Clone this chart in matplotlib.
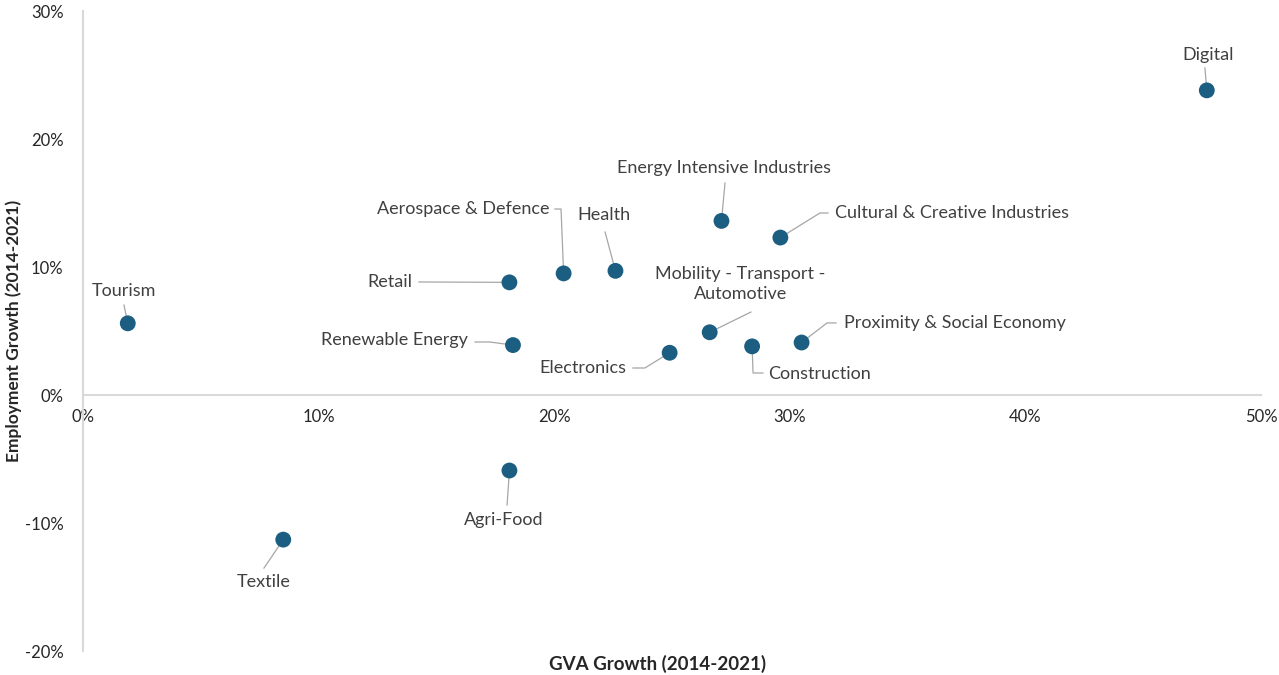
import matplotlib
matplotlib.use("Agg")
import matplotlib.pyplot as plt
from matplotlib.ticker import FuncFormatter

plt.rcParams['font.family'] = ['Lato', 'DejaVu Sans']

# GVA growth vs employment growth by industrial ecosystem, 2014-2021 (%)
sectors = ["Digital", "Energy Intensive Industries", "Cultural & Creative Industries",
           "Health", "Aerospace & Defence", "Retail", "Tourism", "Renewable Energy",
           "Mobility - Transport -\nAutomotive", "Electronics", "Construction",
           "Proximity & Social Economy", "Agri-Food", "Textile"]
gva_growth = [47.7, 27.1, 29.6, 22.6, 20.4, 18.1, 1.9, 18.25, 26.6, 24.9, 28.4, 30.5, 18.1, 8.5]
emp_growth = [23.8, 13.6, 12.3, 9.7, 9.5, 8.8, 5.6, 3.9, 4.9, 3.3, 3.8, 4.1, -5.9, -11.3]

# label anchor (centre of text) and leader-line waypoints for each sector
label_pos = [(47.75, 26.56), (27.21, 17.73), (36.88, 14.22), (22.11, 14.06),
             (16.13, 14.53), (13.03, 8.83), (1.74, 8.13), (13.20, 4.30),
             (27.89, 8.67), (21.22, 2.11), (31.28, 1.64), (37.01, 5.63),
             (17.87, -9.77), (7.68, -14.61)]
leaders = [
    [(47.62, 25.55)],
    [(27.25, 16.56)],
    [(31.62, 14.22), (31.28, 14.22)],
    [(22.16, 12.73)],
    [(20.03, 14.53), (20.29, 14.53)],
    [(14.26, 8.83)],
    [(1.74, 7.03)],
    [(16.64, 4.14), (17.27, 4.14)],
    [(28.35, 6.48)],
    [(23.34, 2.11), (23.85, 2.11)],
    [(28.86, 1.72), (28.44, 1.72)],
    [(31.96, 5.63), (31.58, 5.63)],
    [(18.00, -8.59)],
    [(7.68, -13.52)],
]

dot_color = "#1b5e82"
line_color = "#a6a6a6"
text_color = "#404040"

fig = plt.figure(figsize=(12.79, 6.75), dpi=100)
ax = fig.add_axes([83 / 1279, 1 - 651 / 675, (1261 - 83) / 1279, (651 - 11) / 675])

for i in range(len(sectors)):
    path = leaders[i] + [(gva_growth[i], emp_growth[i])]
    xs = [p[0] for p in path]
    ys = [p[1] for p in path]
    ax.plot(xs, ys, color=line_color, lw=0.9, zorder=2)
    ax.text(label_pos[i][0], label_pos[i][1], sectors[i], ha="center", va="center",
            multialignment="center", fontsize=13, color=text_color, linespacing=1.3)

ax.scatter(gva_growth, emp_growth, s=130, color=dot_color, zorder=3, edgecolors="none")

ax.set_xlim(0, 50)
ax.set_ylim(-20, 30)
ax.set_xticks(range(0, 51, 10))
ax.set_yticks(range(-20, 31, 10))
pct = FuncFormatter(lambda v, p: "%d%%" % v)
ax.xaxis.set_major_formatter(pct)
ax.yaxis.set_major_formatter(pct)
ax.tick_params(length=0, labelsize=12, labelcolor="#262626")
ax.tick_params(axis="y", pad=14)
ax.tick_params(axis="x", pad=10)

for s in ["top", "right"]:
    ax.spines[s].set_visible(False)
ax.spines["bottom"].set_position(("data", 0))
ax.spines["left"].set_position(("data", 0))
for s in ["bottom", "left"]:
    ax.spines[s].set_color("#d9d9d9")
    ax.spines[s].set_linewidth(1.5)

fig.text(658 / 1279, 1 - 664 / 675, "GVA Growth (2014-2021)", ha="center", va="center",
         fontsize=13.5, fontweight="bold", color="#262626")
fig.text(14 / 1279, 1 - 331 / 675, "Employment Growth (2014-2021)", ha="center", va="center",
         rotation=90, fontsize=12.5, fontweight="bold", color="#262626")

fig.savefig("out.png", dpi=100)
